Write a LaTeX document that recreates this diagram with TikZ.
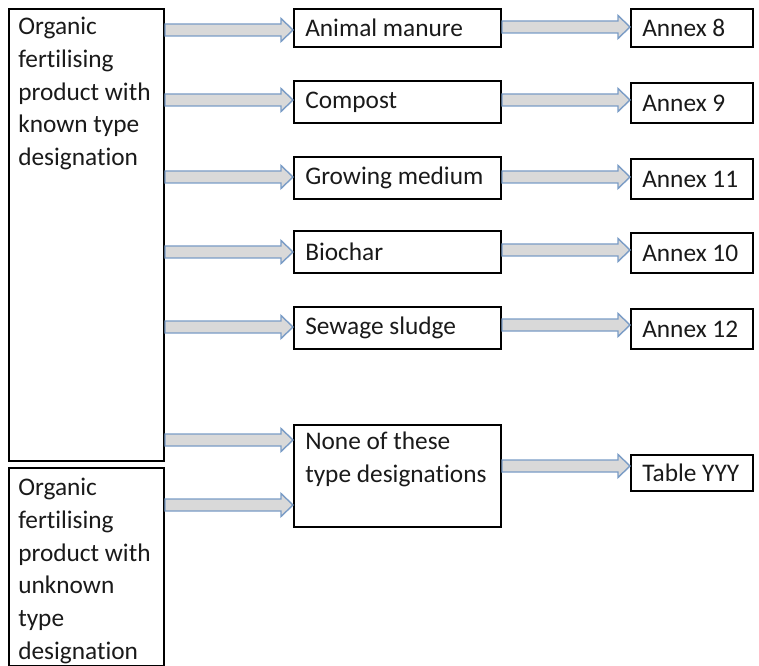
\documentclass[tikz,border=0pt]{standalone}
\usepackage{fontspec}
\setmainfont{Carlito}[Ligatures=NoCommon]
\usetikzlibrary{calc}
\newdimen\px \px=0.75pt
\definecolor{arrfill}{HTML}{D9D9D9}
\definecolor{arrline}{HTML}{7A9CC6}
\definecolor{txt}{HTML}{1A1A1A}
\tikzset{
  base/.style={draw=black, line width=2\px, fill=white, anchor=north west, inner sep=0pt},
  midbox/.style={base, minimum width=207\px},
  rightbox/.style={base, minimum width=122\px},
  arrsty/.style={fill=arrfill, draw=arrline, line width=1.4\px, line join=miter},
  lbl/.style={align=left, text=txt, font=\fontsize{19}{24.5}\selectfont, inner sep=0pt}
}
\newcommand\barrow[3]{%
  \path[arrsty] let \p1=(#1.east), \p2=(#2.west), \p3=(0,#3) in
    (\x1,\y3+6\px) -- (\x2-12\px,\y3+6\px) -- (\x2-12\px,\y3+11.5\px) -- (\x2,\y3)
    -- (\x2-12\px,\y3-11.5\px) -- (\x2-12\px,\y3-6\px) -- (\x1,\y3-6\px) -- cycle;}
\newcommand\boxtext[3]{\node[lbl, anchor=west] (#1t) at ($(#1.west)+(#2,0)$) {#3};}
\begin{document}
\begin{tikzpicture}[x=0.75pt,y=-0.75pt]
\useasboundingbox (0,0) rectangle (759,666);
% left boxes
\node[base, minimum width=155\px, minimum height=452\px] (L1) at (8,8) {};
\node[lbl, anchor=north west] (L1t) at (18,17) {Organic\\fertilising\\product with\\known type\\designation};
\node[base, minimum width=155\px, minimum height=198\px] (L2) at (8,467) {};
\node[lbl, anchor=north west] (L2t) at (18,478) {Organic\\fertilising\\product with\\unknown\\type\\designation};
% middle boxes
\node[midbox, minimum height=38\px] (M1) at (293,8) {};
\node[midbox, minimum height=42\px] (M2) at (293,80) {};
\node[midbox, minimum height=42\px] (M3) at (293,156) {};
\node[midbox, minimum height=42\px] (M4) at (293,230) {};
\node[midbox, minimum height=42\px] (M5) at (293,306) {};
\node[midbox, minimum height=102\px] (M6) at (293,424) {};
\boxtext{M1}{12}{Animal manure}
\boxtext{M2}{12}{Compost}
\boxtext{M3}{12}{Growing medium}
\boxtext{M4}{12}{Biochar}
\boxtext{M5}{12}{Sewage sludge}
\node[lbl, anchor=north west] (M6t) at (305,432) {None of these\\type designations};
% right boxes
\node[rightbox, minimum height=38\px] (R1) at (630,8) {};
\node[rightbox, minimum height=40\px] (R2) at (630,82) {};
\node[rightbox, minimum height=40\px] (R3) at (630,158) {};
\node[rightbox, minimum height=40\px] (R4) at (630,232) {};
\node[rightbox, minimum height=40\px] (R5) at (630,308) {};
\node[rightbox, minimum height=36\px] (R6) at (630,454) {};
\boxtext{R1}{12}{Annex 8}
\boxtext{R2}{12}{Annex 9}
\boxtext{R3}{12}{Annex 11}
\boxtext{R4}{12}{Annex 10}
\boxtext{R5}{12}{Annex 12}
\boxtext{R6}{12}{Table YYY}
% arrows left -> middle
\barrow{L1}{M1}{30}
\barrow{L1}{M2}{100}
\barrow{L1}{M3}{177}
\barrow{L1}{M4}{252}
\barrow{L1}{M5}{327}
\barrow{L1}{M6}{440}
\barrow{L2}{M6}{505}
% arrows middle -> right
\barrow{M1}{R1}{27}
\barrow{M2}{R2}{100}
\barrow{M3}{R3}{177}
\barrow{M4}{R4}{250}
\barrow{M5}{R5}{325}
\barrow{M6}{R6}{466}
\end{tikzpicture}
\end{document}
